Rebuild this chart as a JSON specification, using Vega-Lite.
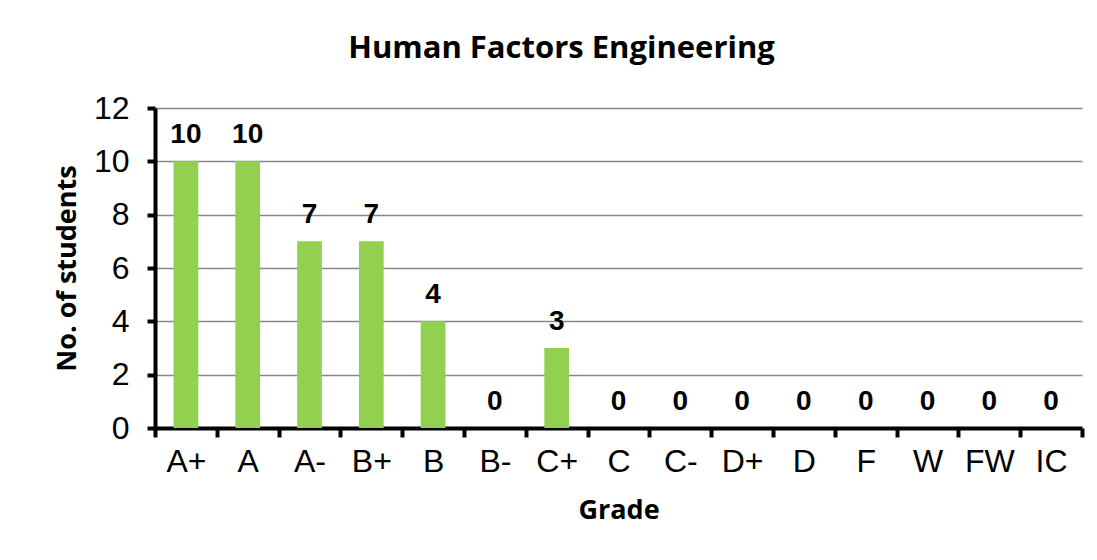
{
  "$schema": "https://vega.github.io/schema/vega-lite/v6.json",
  "width": 927,
  "height": 320,
  "autosize": "none",
  "padding": {"left": 155, "top": 108, "right": 15, "bottom": 132},
  "background": "white",
  "title": {
    "text": "Human Factors Engineering",
    "font": "Open Sans",
    "fontSize": 31,
    "fontWeight": "bold",
    "color": "black",
    "baseline": "alphabetic",
    "offset": 3,
    "dx": -57
  },
  "data": {
    "values": [
      {"grade": "A+", "count": 10},
      {"grade": "A", "count": 10},
      {"grade": "A-", "count": 7},
      {"grade": "B+", "count": 7},
      {"grade": "B", "count": 4},
      {"grade": "B-", "count": 0},
      {"grade": "C+", "count": 3},
      {"grade": "C", "count": 0},
      {"grade": "C-", "count": 0},
      {"grade": "D+", "count": 0},
      {"grade": "D", "count": 0},
      {"grade": "F", "count": 0},
      {"grade": "W", "count": 0},
      {"grade": "FW", "count": 0},
      {"grade": "IC", "count": 0}
    ]
  },
  "encoding": {
    "x": {
      "field": "grade",
      "type": "nominal",
      "sort": null,
      "scale": {"paddingInner": 0, "paddingOuter": 0},
      "axis": {
        "title": "Grade",
        "titleFont": "Open Sans",
        "titleFontSize": 27,
        "titleFontWeight": "bold",
        "titleColor": "black",
        "titlePadding": 20,
        "labelFont": "Liberation Sans",
        "labelFontSize": 32,
        "labelColor": "black",
        "labelAngle": 0,
        "labelPadding": 9,
        "domainColor": "black",
        "domainWidth": 4,
        "tickColor": "black",
        "tickWidth": 4,
        "tickSize": 9,
        "tickBand": "extent",
        "grid": false
      }
    },
    "y": {
      "field": "count",
      "type": "quantitative",
      "scale": {"domain": [0, 12]},
      "axis": {
        "title": "No. of students",
        "titleFont": "Open Sans",
        "titleFontSize": 27,
        "titleFontWeight": "bold",
        "titleColor": "black",
        "titlePadding": 12,
        "values": [0, 2, 4, 6, 8, 10, 12],
        "labelFont": "Liberation Sans",
        "labelFontSize": 32,
        "labelColor": "black",
        "labelPadding": 18,
        "domainColor": "black",
        "domainWidth": 4,
        "tickColor": "black",
        "tickWidth": 4,
        "tickSize": 8,
        "grid": true,
        "gridColor": "#888888",
        "gridWidth": 1.5
      }
    }
  },
  "layer": [
    {"mark": {"type": "bar", "color": "#92D050", "width": {"band": 0.4}}},
    {
      "mark": {
        "type": "text",
        "font": "Liberation Sans",
        "fontSize": 28,
        "fontWeight": "bold",
        "color": "black",
        "baseline": "alphabetic",
        "dy": -18
      },
      "encoding": {"text": {"field": "count", "type": "quantitative"}}
    }
  ],
  "config": {"view": {"stroke": null}}
}
